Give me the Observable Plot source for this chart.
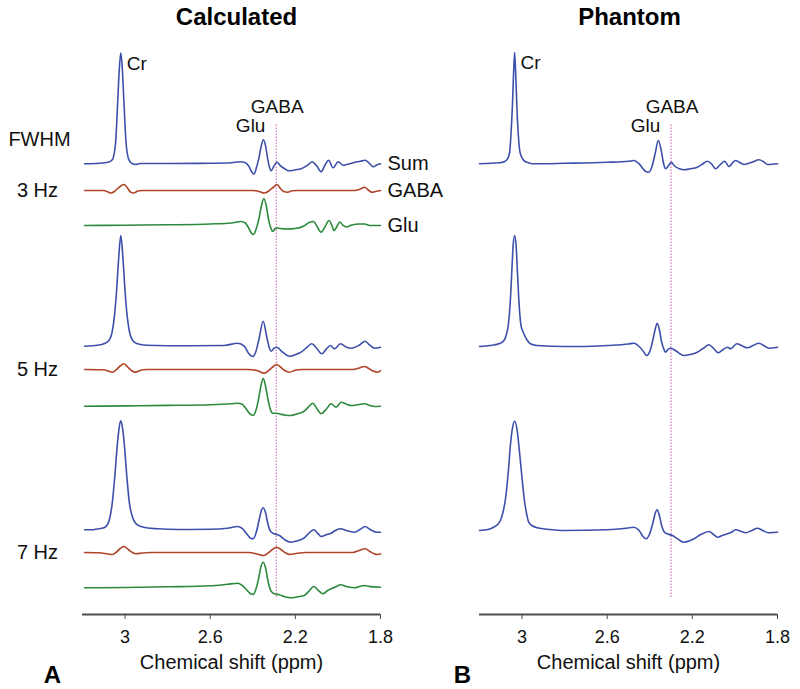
<!DOCTYPE html>
<html>
<head>
<meta charset="utf-8">
<script src="https://cdn.jsdelivr.net/npm/d3@7"></script>
<script src="https://cdn.jsdelivr.net/npm/@observablehq/plot@0.6"></script>
<style>
  html, body { margin: 0; padding: 0; background: #fff; }
  #fig { position: relative; width: 800px; height: 689px; font-family: "Liberation Sans", Arial, sans-serif; }
  #left, #right { position: absolute; top: 0; }
  #left { left: 0; }
  #right { left: 400px; }
</style>
</head>
<body>
<div id="fig"><div id="left"></div><div id="right"></div></div>
<script>
// ---------- DATA (ppm, intensity above the trace baseline, arbitrary units) ----------
const panels = ["Calculated", "Phantom"];
const fwhmLabels = ["3 Hz", "5 Hz", "7 Hz"];
const seriesNames = ["Sum", "GABA", "Glu"];
const xTicks = [3, 2.6, 2.2, 1.8];
const peakLabels = ["Cr", "GABA", "Glu"];
const gabaMarkerPpm = [2.29, 2.30];   // dotted reference line, Calculated / Phantom

const calcSum3 = [[3.19,0],[3.12,0.5],[3.08,1.5],[3.06,4],[3.045,20],[3.035,60],[3.027,95],[3.02,111],[3.013,95],[3.005,60],[2.995,20],[2.982,4],[2.965,0],[2.95,-0.7],[2.93,0.3],[2.8,0.3],[2.6,0.5],[2.5,1],[2.46,2],[2.44,1.5],[2.42,-2],[2.405,-8],[2.394,-10.5],[2.383,-4],[2.37,7],[2.36,18],[2.35,24],[2.34,18],[2.33,5],[2.322,-3],[2.314,-7],[2.30,-2],[2.286,1.5],[2.272,-1.5],[2.25,-5],[2.23,-7],[2.2,-6],[2.173,-5],[2.14,-1],[2.121,2],[2.10,-2],[2.079,-8],[2.06,-1],[2.044,3.5],[2.023,-4],[1.999,2],[1.975,-1.5],[1.955,-0.5],[1.92,1.5],[1.895,2.5],[1.872,3.5],[1.855,1],[1.834,-3],[1.815,-1],[1.80,0]];
const calcGaba3 = [[3.19,0],[3.10,0],[3.08,-1.5],[3.067,-2.5],[3.05,-1],[3.035,2],[3.02,4.5],[3.005,6],[2.99,3],[2.975,-1.5],[2.959,-2.5],[2.94,-0.5],[2.92,0],[2.40,0],[2.37,-1],[2.346,-2.5],[2.325,-0.5],[2.305,3],[2.286,6],[2.27,2],[2.255,-1],[2.236,-1.7],[2.215,-0.3],[2.19,0],[1.92,0],[1.895,1.5],[1.875,3.3],[1.86,1],[1.84,-1.7],[1.82,-0.8],[1.80,0]];
const calcGlu3 = [[3.19,0],[3.0,0.3],[2.8,0.7],[2.6,1.5],[2.5,2.5],[2.455,4],[2.435,2.5],[2.418,-3],[2.405,-8],[2.396,-9],[2.385,-4],[2.372,6],[2.36,19],[2.348,27],[2.336,19],[2.326,6],[2.316,-2],[2.306,-6],[2.295,-3],[2.286,-2.5],[2.27,-3],[2.24,-3.5],[2.2,-3],[2.16,-0.5],[2.135,3],[2.115,4],[2.098,-1],[2.079,-6.7],[2.06,-1],[2.042,5],[2.03,1],[2.018,-5],[2.005,-1],[1.992,3.5],[1.975,0],[1.961,-1.5],[1.935,0.5],[1.90,1.5],[1.875,1.5],[1.85,0],[1.80,0]];

const calcSum5 = [[3.19,0],[3.13,1],[3.10,2.4],[3.075,6],[3.06,15],[3.05,30],[3.04,55],[3.03,88],[3.02,110.7],[3.01,88],[3.0,55],[2.99,30],[2.98,15],[2.965,6],[2.942,2.4],[2.90,1],[2.70,0.5],[2.535,0.7],[2.471,3],[2.44,0],[2.42,-7],[2.40,-10.3],[2.385,-5],[2.37,8],[2.351,25],[2.335,10],[2.322,-2],[2.314,-5],[2.30,-2],[2.288,-1],[2.26,-6],[2.228,-10],[2.20,-8.5],[2.173,-6],[2.15,-2],[2.123,2.4],[2.10,-2],[2.076,-7.6],[2.055,-3],[2.035,0.7],[2.016,-2.6],[1.988,2.4],[1.96,-1],[1.938,-2],[1.90,1],[1.872,5],[1.85,1],[1.828,-2],[1.80,-1]];
const calcGaba5 = [[3.19,0],[3.10,-0.3],[3.08,-1.5],[3.059,-2.7],[3.04,0],[3.02,4],[3.005,5.7],[2.99,3],[2.97,-1],[2.95,-2.7],[2.93,-1],[2.90,0],[2.42,0],[2.38,-1],[2.346,-3.7],[2.32,0],[2.30,3.5],[2.288,5],[2.27,2.5],[2.25,-1],[2.228,-2.7],[2.20,-0.7],[2.17,0],[1.93,0],[1.90,1.5],[1.875,3],[1.855,1],[1.835,-1.5],[1.812,-2.7],[1.80,-1]];
const calcGlu5 = [[3.19,0],[3.0,0.3],[2.8,0.8],[2.6,1.5],[2.5,2.5],[2.471,3],[2.45,2],[2.43,-3],[2.412,-8],[2.398,-9.3],[2.385,-4],[2.372,8],[2.362,20],[2.351,28],[2.34,20],[2.328,6],[2.318,-3],[2.306,-7],[2.29,-7],[2.27,-8],[2.245,-9],[2.22,-9.3],[2.19,-7.5],[2.158,-5],[2.135,0],[2.118,3],[2.10,-2],[2.079,-7.6],[2.055,-3],[2.032,2.4],[2.008,-1],[1.985,4],[1.96,2],[1.938,0.7],[1.905,1.5],[1.875,2.4],[1.85,0.8],[1.828,-0.3],[1.80,0]];

const calcSum7 = [[3.19,0],[3.16,0],[3.13,0.8],[3.099,2],[3.087,4],[3.075,9],[3.059,29],[3.048,54],[3.036,86],[3.028,102],[3.02,109],[3.012,102],[3.005,89],[2.992,54],[2.981,29],[2.965,12.6],[2.942,5],[2.90,2],[2.848,1],[2.75,0.3],[2.6,0.5],[2.52,1.5],[2.471,3.3],[2.45,1.5],[2.425,-5],[2.41,-8.5],[2.398,-9],[2.383,-2],[2.37,10],[2.36,19],[2.351,22],[2.34,17],[2.328,5],[2.315,-2],[2.299,-4],[2.275,-5.7],[2.25,-10],[2.22,-12.4],[2.19,-11],[2.158,-8],[2.135,-3],[2.113,0],[2.095,-3.5],[2.079,-6.7],[2.055,-5],[2.032,-3.4],[2.01,-0.5],[1.988,1],[1.955,-1],[1.922,-2.4],[1.895,0.5],[1.872,3.3],[1.85,0.5],[1.82,-2.4],[1.80,-2.4]];
const calcGaba7 = [[3.19,0],[3.12,-0.3],[3.08,-1.5],[3.059,-2],[3.04,0.5],[3.02,4.5],[3.005,6],[2.985,3],[2.965,0],[2.95,-1.3],[2.92,-0.5],[2.88,0],[2.42,0],[2.38,-1.5],[2.349,-3],[2.325,0],[2.305,3.5],[2.288,5.3],[2.265,2.5],[2.245,-0.5],[2.225,-2],[2.19,-0.7],[2.15,0],[1.93,0],[1.9,2],[1.872,3.7],[1.85,1],[1.83,-1.2],[1.812,-2],[1.80,-1.3]];
const calcGlu7 = [[3.19,0],[3.0,0.3],[2.8,1],[2.6,2],[2.52,3.5],[2.471,4.6],[2.45,2.5],[2.425,-3],[2.41,-6],[2.398,-6.7],[2.385,-1],[2.372,10],[2.362,21],[2.351,25.6],[2.34,20],[2.328,6],[2.315,-3],[2.299,-6],[2.275,-7],[2.25,-9],[2.22,-10],[2.19,-9],[2.158,-7.7],[2.135,-3],[2.113,1.3],[2.09,-3],[2.071,-6],[2.05,-3],[2.032,-1],[2.01,1],[1.988,3],[1.955,1],[1.922,0],[1.895,1.5],[1.875,2.3],[1.85,1.2],[1.80,0.6]];

const phanSum3 = [[3.2,0],[3.105,1],[3.085,2],[3.068,5],[3.058,12],[3.052,30],[3.045,60],[3.04,90],[3.035,111.6],[3.03,90],[3.025,60],[3.018,30],[3.01,12],[3.0,6],[2.99,3],[2.976,1.6],[2.95,0],[2.8,0.5],[2.6,1.5],[2.5,2.5],[2.476,3.3],[2.45,0],[2.421,-7.4],[2.405,-8.4],[2.39,-3],[2.375,10],[2.36,23.3],[2.345,12],[2.335,0],[2.326,-5],[2.312,-2],[2.299,1.6],[2.285,-2],[2.26,-5],[2.24,-6],[2.21,-5],[2.177,-3.4],[2.15,0],[2.13,2.6],[2.11,0],[2.091,-5],[2.07,-1],[2.048,2.6],[2.028,-2.7],[2.015,0],[1.997,3.3],[1.975,1],[1.957,-0.7],[1.92,1.5],[1.887,4],[1.865,2],[1.847,-0.7],[1.825,-0.5],[1.8,0]];
const phanSum5 = [[3.2,-1],[3.15,0],[3.102,2.3],[3.085,5],[3.075,10],[3.065,20],[3.055,45],[3.048,75],[3.042,100],[3.035,110],[3.028,100],[3.022,75],[3.015,45],[3.005,20],[2.992,12],[2.975,5],[2.961,1.7],[2.93,0],[2.8,-1],[2.726,-1],[2.6,0],[2.5,1.5],[2.475,2.3],[2.45,-1],[2.43,-6],[2.415,-10],[2.4,-6],[2.385,6],[2.375,16],[2.365,22.3],[2.355,16],[2.345,4],[2.335,-3],[2.326,-6.7],[2.315,-4],[2.302,-2.7],[2.28,-5],[2.26,-8],[2.24,-10],[2.21,-9],[2.177,-6.7],[2.15,-3],[2.122,0.7],[2.10,-3],[2.079,-7.3],[2.055,-4],[2.035,-1.7],[2.02,-3.3],[1.991,1.7],[1.965,-0.5],[1.941,-2.3],[1.915,0],[1.887,2.3],[1.865,0],[1.84,-2.7],[1.8,-1.7]];
const phanSum7 = [[3.2,0],[3.16,1],[3.134,3.3],[3.115,6],[3.102,10],[3.09,18],[3.079,30],[3.063,63],[3.055,85],[3.047,100],[3.035,109.3],[3.023,100],[3.015,85],[3.005,63],[2.989,30],[2.978,16],[2.969,8.3],[2.95,4.5],[2.929,2.7],[2.87,1],[2.804,0],[2.6,0.7],[2.52,2],[2.475,3.3],[2.45,0],[2.432,-6],[2.417,-8.3],[2.4,-3],[2.385,8],[2.375,17],[2.365,20.7],[2.355,15],[2.343,4],[2.33,-2],[2.318,-3.3],[2.294,-5],[2.265,-9],[2.24,-11.7],[2.215,-10.5],[2.192,-8.3],[2.16,-4],[2.122,-1],[2.10,-4],[2.082,-6.7],[2.06,-5],[2.035,-3.3],[2.015,-1.5],[1.996,0.7],[1.97,-1],[1.949,-2.3],[1.92,0],[1.894,2.3],[1.87,0],[1.844,-2.3],[1.82,-2],[1.8,-1.7]];

// ---------- LAYOUT (stacking offsets of each trace, same units) ----------
const calcBaselines = {"3 Hz": {Sum: 450.7, GABA: 424, Glu: 389}, "5 Hz": {Sum: 268.3, GABA: 245, Glu: 208.3}, "7 Hz": {Sum: 84.7, GABA: 62, Glu: 26.7}};
const phanBaselines = {"3 Hz": {Sum: 450.7}, "5 Hz": {Sum: 269}, "7 Hz": {Sum: 84}};
const yTop = 614;
const ruleSpan = [17, 491];

const colors = {Sum: "#3d4faa", GABA: "#b04428", Glu: "#2c8a3c"};
const FONT = '"Liberation Sans", Arial, Helvetica, sans-serif';

const calcTraces = {"3 Hz": {Sum: calcSum3, GABA: calcGaba3, Glu: calcGlu3}, "5 Hz": {Sum: calcSum5, GABA: calcGaba5, Glu: calcGlu5}, "7 Hz": {Sum: calcSum7, GABA: calcGaba7, Glu: calcGlu7}};
const phanTraces = {"3 Hz": {Sum: phanSum3}, "5 Hz": {Sum: phanSum5}, "7 Hz": {Sum: phanSum7}};

function buildRows(traces, baselines) {
  const rows = [];
  for (const f of fwhmLabels) for (const s of seriesNames) {
    const pts = traces[f][s];
    if (!pts) continue;
    for (const [ppm, v] of pts) rows.push({ppm, y: baselines[f][s] + v, key: f + s, series: s});
  }
  return rows;
}

function panelPlot(idx, traces, baselines, margins) {
  const rows = buildRows(traces, baselines);
  const sum3 = traces["3 Hz"].Sum;
  const crPeak = sum3.reduce((a, b) => (b[1] > a[1] ? b : a));
  const gluRegion = sum3.filter(d => d[0] < 2.5);
  const gluPeak = gluRegion.reduce((a, b) => (b[1] > a[1] ? b : a));
  const base3 = baselines["3 Hz"].Sum;
  const marks = [
    Plot.ruleX([gabaMarkerPpm[idx]], {y1: ruleSpan[0], y2: ruleSpan[1], stroke: "#c85aa8", strokeWidth: 1, strokeDasharray: "1.5,1.5"}),
    Plot.line(rows, {x: "ppm", y: "y", z: "key", stroke: d => colors[d.series], strokeWidth: 1.6, curve: "monotone-x"}),
    Plot.ruleY([0], {stroke: "#4d4d4d", strokeWidth: 2}),
    Plot.axisX({ticks: xTicks, tickFormat: d => String(d), tickSize: 5, tickPadding: 11, fontSize: 18, stroke: "#4d4d4d", fill: "#111", label: null}),
    Plot.text(["Chemical shift (ppm)"], {frameAnchor: "bottom", lineAnchor: "middle", dy: 48, fontSize: 20, fill: "#111"}),
    Plot.text([panels[idx]], {frameAnchor: "top", lineAnchor: "middle", dy: 17, dx: idx === 0 ? 5 : 1, fontSize: 24, fontWeight: "bold", fill: "#000"}),
    Plot.text([idx === 0 ? "A" : "B"], {frameAnchor: "bottom-left", lineAnchor: "middle", textAnchor: "middle", dx: idx === 0 ? -30 : -17, dy: 61, fontSize: 24, fontWeight: "bold", fill: "#000"}),
    Plot.text([peakLabels[0]], {x: [crPeak[0]], y: [base3 + crPeak[1]], textAnchor: "start", lineAnchor: "middle", dx: 6, dy: 11, fontSize: 19, fill: "#111"}),
    Plot.text([peakLabels[1]], {x: [gabaMarkerPpm[idx]], y: [base3 + 57], textAnchor: "middle", lineAnchor: "middle", dx: 1, fontSize: 19, fill: "#111"}),
    Plot.text([peakLabels[2]], {x: [gluPeak[0]], y: [base3 + 38], textAnchor: "end", lineAnchor: "middle", dx: 2, fontSize: 19, fill: "#111"})
  ];
  if (idx === 0) {
    marks.push(
      Plot.text(["FWHM"], {frameAnchor: "left", y: [base3 + 24], textAnchor: "middle", lineAnchor: "middle", dx: -43, fontSize: 20, fill: "#111"}),
      Plot.text(fwhmLabels, {frameAnchor: "left", y: fwhmLabels.map(f => baselines[f].GABA), textAnchor: "middle", lineAnchor: "middle", dx: -45, fontSize: 20, fill: "#111"}),
      Plot.text(seriesNames, {frameAnchor: "right", y: seriesNames.map(s => baselines["3 Hz"][s]), textAnchor: "start", lineAnchor: "middle", dx: 7, fontSize: 20, fill: "#111"})
    );
  }
  return Plot.plot({
    width: 400, height: 689,
    marginTop: 0, marginBottom: 689 - yTop, marginLeft: margins[0], marginRight: margins[1],
    style: {fontFamily: FONT, background: "transparent", overflow: "visible"},
    x: {domain: [3.2, 1.8]},
    y: {domain: [0, yTop], axis: null},
    marks
  });
}

document.getElementById("left").appendChild(panelPlot(0, calcTraces, calcBaselines, [82, 20]));
document.getElementById("right").appendChild(panelPlot(1, phanTraces, phanBaselines, [79, 23]));
</script>
</body>
</html>
